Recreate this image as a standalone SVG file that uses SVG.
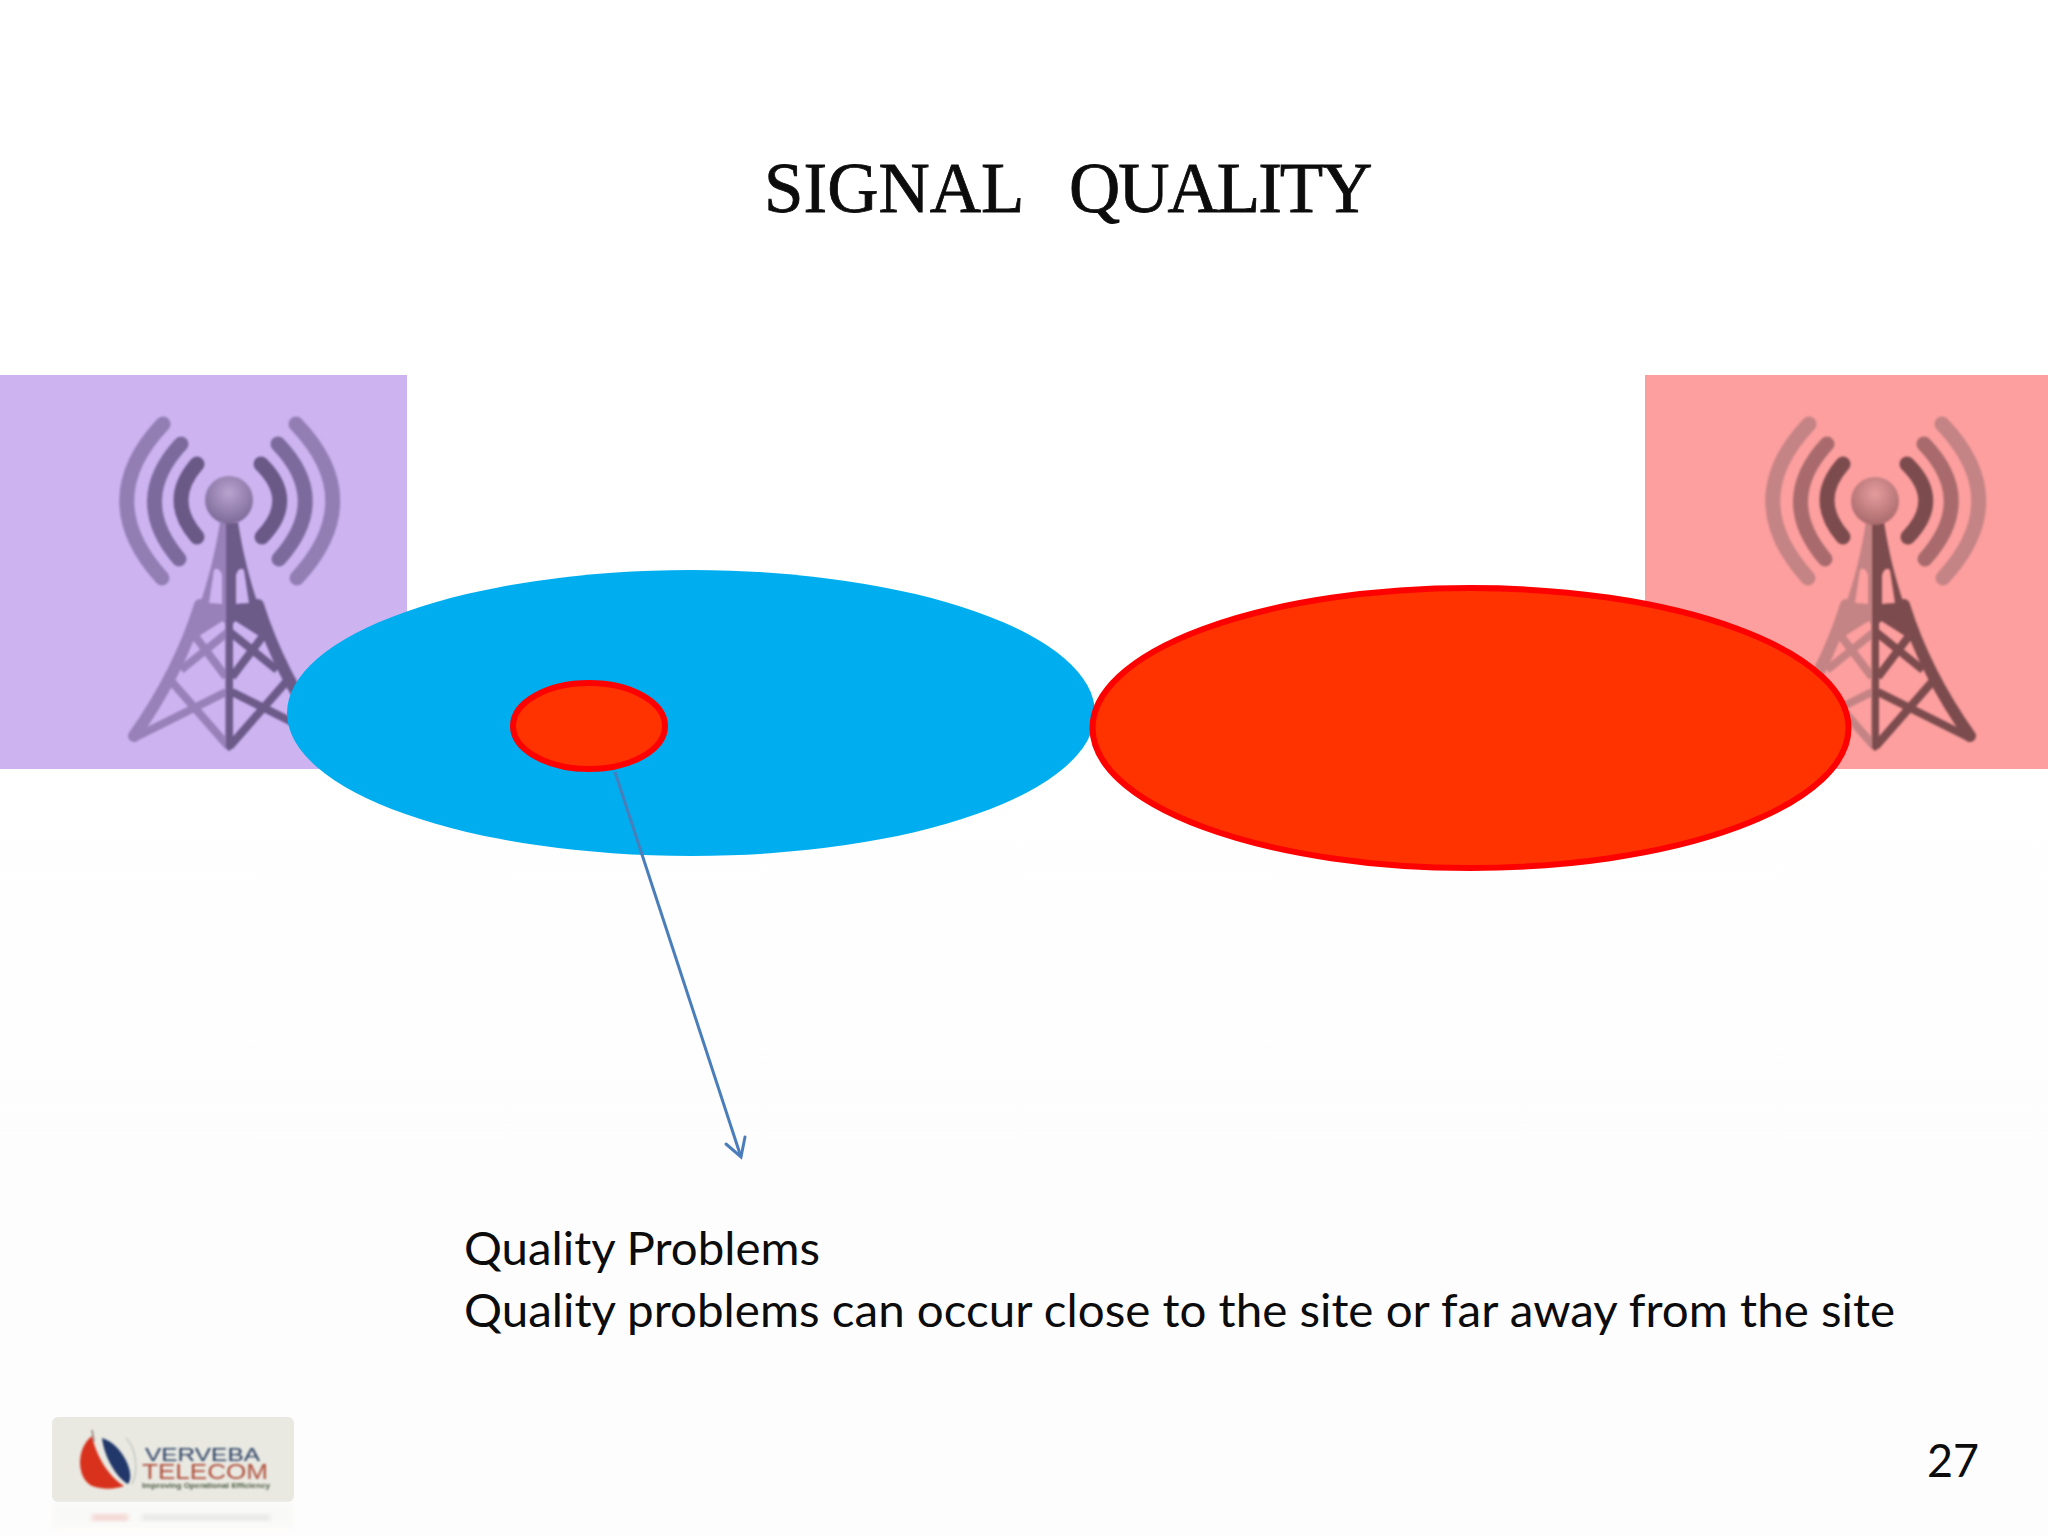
<svg xmlns="http://www.w3.org/2000/svg" width="2048" height="1536" viewBox="0 0 2048 1536">
<defs>
<style>
.body{font-family:"Lato","Open Sans",sans-serif;font-size:46px;fill:#0c0c0c}
.wave{fill:none;stroke-linecap:round;stroke-width:15}
</style>
<filter id="soft" x="-10%" y="-10%" width="120%" height="120%"><feGaussianBlur stdDeviation="1"/></filter>
<filter id="logoBlur" x="-10%" y="-30%" width="120%" height="160%"><feGaussianBlur stdDeviation="0.9"/></filter>
<filter id="mist" x="-10%" y="-50%" width="120%" height="200%"><feGaussianBlur stdDeviation="2.5"/></filter>
<linearGradient id="page" x1="0" y1="0" x2="0" y2="1"><stop offset="0.45" stop-color="#ffffff"/><stop offset="0.8" stop-color="#fefdfd"/></linearGradient>
<radialGradient id="ballP" cx="50%" cy="35%" r="65%"><stop offset="0" stop-color="#b9a3cf"/><stop offset="1" stop-color="#7d6a98"/></radialGradient>
<radialGradient id="ballR" cx="50%" cy="35%" r="65%"><stop offset="0" stop-color="#e59c9c"/><stop offset="1" stop-color="#a96a6c"/></radialGradient>
<g id="half">
<path stroke="none" fill-rule="evenodd" d="M229 522L220 522C214 560 206 590 190 632L199 636L229 617Z M214 570L209 603L222 604L222 575Q219 566 214 570Z"/>
<path fill="none" stroke-width="12" stroke-linecap="round" d="M200 605C186 650 165 692 134 736"/>
<g fill="none" stroke-width="8">
<path d="M228 632L181 670"/>
<path d="M195 636L226 677"/>
<path d="M134 738L226 692"/>
<path d="M172 682L228 746"/>
<path d="M214 606L229 622"/>
</g>
<path stroke="none" d="M225 520H232V748L229 751L225 748Z"/>
</g>
<g id="tower">
<path class="wave" d="M197 464Q165 500 197 537" style="stroke:var(--d3)"/>
<path class="wave" d="M181 444Q129 500 179 559" style="stroke:var(--d2)"/>
<path class="wave" d="M163 424Q91 500 162 578" style="stroke:var(--d1)"/>
<path class="wave" d="M261 464Q298 500 262 537" style="stroke:var(--d3)"/>
<path class="wave" d="M278 444Q332 500 279 559" style="stroke:var(--d2)"/>
<path class="wave" d="M296 424Q369 500 297 578" style="stroke:var(--d1)"/>
<use href="#half" style="fill:var(--l);stroke:var(--l)"/>
<use href="#half" transform="translate(458 0) scale(-1 1)" style="fill:var(--r);stroke:var(--r)"/>
</g>
</defs>
<rect width="2048" height="1536" fill="url(#page)"/>
<g id="title"><text y="212" font-family="'Liberation Serif',serif" font-size="71" fill="#0c0c0c" stroke="#0c0c0c" stroke-width="0.8"><tspan x="764">SIGNAL</tspan><tspan x="1069" letter-spacing="-2">QUALITY</tspan></text></g>
<g id="tower-left">
<rect x="0" y="375" width="407" height="394" fill="#cdb4f1"/>
<use href="#tower" filter="url(#soft)" style="--d1:#937eb4;--d2:#7d6a9c;--d3:#6a5886;--l:#9781b8;--r:#6c5a88"/>
<circle cx="229" cy="500" r="24" fill="url(#ballP)" filter="url(#soft)"/>
</g>
<g id="tower-right">
<rect x="1645" y="375" width="403" height="394" fill="#fd9f9f"/>
<use href="#tower" x="1646" filter="url(#soft)" style="--d1:#c48384;--d2:#a86a6c;--d3:#7c4b4e;--l:#c48384;--r:#7c4b4e"/>
<circle cx="1875" cy="501" r="24" fill="url(#ballR)" filter="url(#soft)"/>
</g>
<g id="cell-blue"><ellipse cx="691" cy="713" rx="404" ry="143" fill="#00aeef"/></g>
<g id="cell-red"><ellipse cx="1470.5" cy="728" rx="378" ry="140" fill="#ff3300" stroke="#ff0000" stroke-width="6"/></g>
<g id="problem-spot"><ellipse cx="589" cy="726" rx="76" ry="43" fill="#ff3300" stroke="#ff0000" stroke-width="6"/></g>
<g id="connectors" fill="none" stroke="#4a7ebb" stroke-width="3">
<path d="M615 772L741 1157"/>
<path d="M726 1144L741 1157L745 1137" stroke-linecap="round"/>
</g>
<g id="caption">
<text class="body" x="464" y="1265" textLength="356" lengthAdjust="spacingAndGlyphs">Quality Problems</text>
<text class="body" x="464" y="1327" textLength="1431" lengthAdjust="spacingAndGlyphs">Quality problems can occur close to the site or far away from the site</text>
</g>
<g id="page-number"><text class="body" x="1927" y="1477" textLength="52" lengthAdjust="spacingAndGlyphs">27</text></g>
<g id="logo">
<rect x="52" y="1417" width="242" height="85" rx="6" fill="#e9e9e2"/>
<g filter="url(#logoBlur)">
<path d="M92 1436C76 1448 76 1478 92 1486C106 1491 118 1488 124 1486C108 1476 96 1455 92 1436Z" fill="#d8301c"/>
<path d="M92 1430L94 1442" stroke="#8a7a70" stroke-width="1.5"/>
<path d="M102 1438C122 1444 136 1474 128 1484C116 1478 104 1456 102 1438Z" fill="#24396a"/>
<path d="M126 1438C136 1448 139 1470 132 1484" fill="none" stroke="#c8c8c4" stroke-width="1.5"/>
<text x="145" y="1461" font-family="'Liberation Sans',sans-serif" font-size="19" textLength="115" lengthAdjust="spacingAndGlyphs" fill="#2c3f63">VERVEBA</text>
<text x="142" y="1479" font-family="'Liberation Sans',sans-serif" font-size="22" textLength="126" lengthAdjust="spacingAndGlyphs" fill="#b0503c">TELECOM</text>
<text x="142" y="1488" font-family="'Liberation Sans',sans-serif" font-size="7" font-weight="bold" textLength="128" lengthAdjust="spacingAndGlyphs" fill="#4c5a40">Improving Operational Efficiency</text>
</g>
<rect x="52" y="1502" width="242" height="26" fill="#f6f6f4" opacity=".5" filter="url(#mist)"/>
<rect x="92" y="1515" width="36" height="5" fill="#f0b8b0" opacity=".7" filter="url(#mist)"/>
<rect x="142" y="1515" width="128" height="5" fill="#d5d5d5" opacity=".6" filter="url(#mist)"/>
</g>
</svg>
